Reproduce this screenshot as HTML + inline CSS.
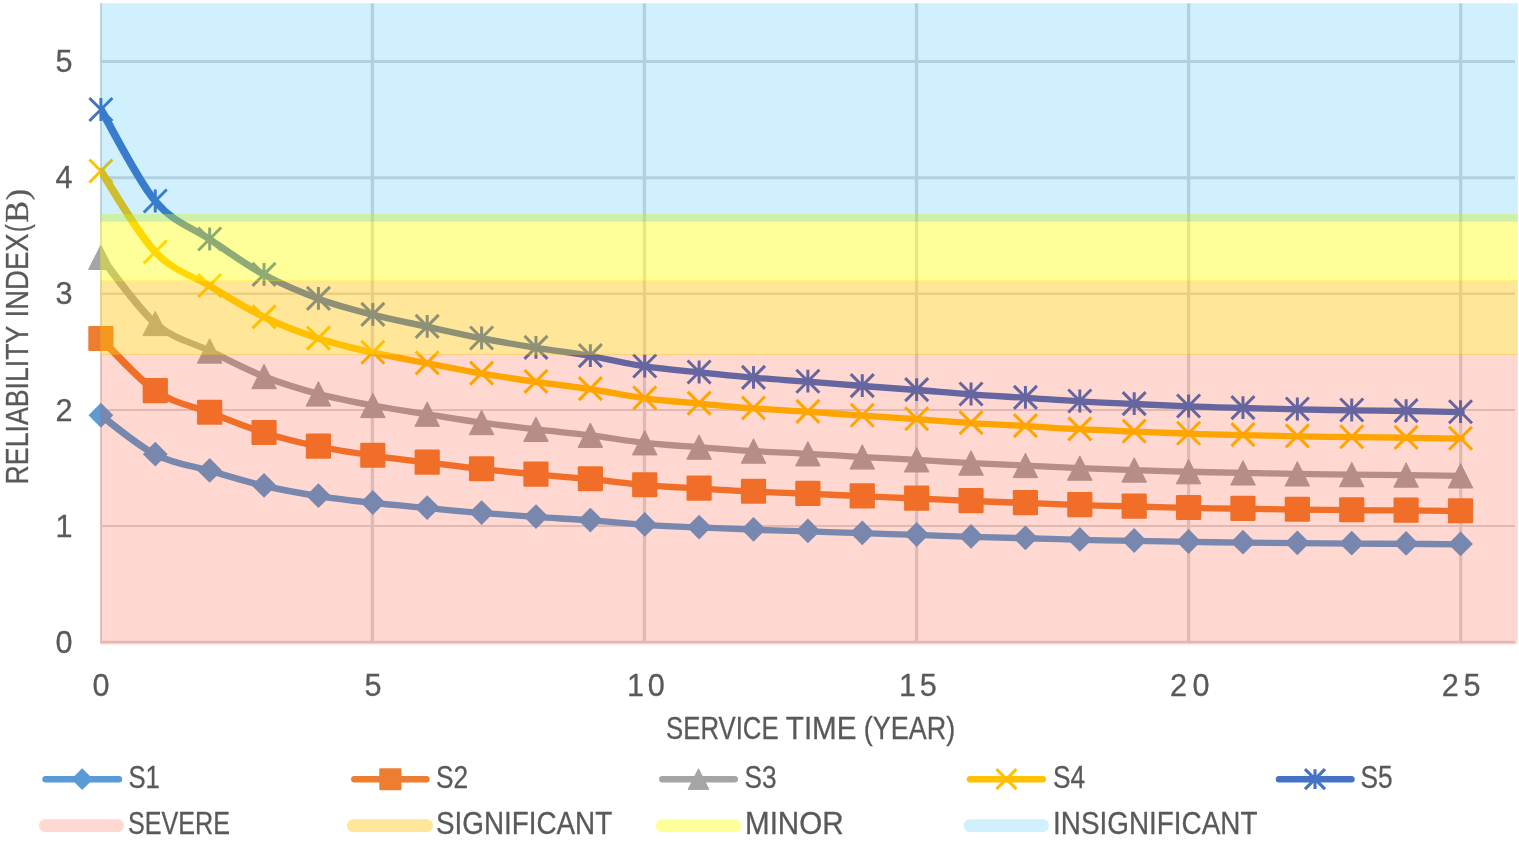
<!DOCTYPE html>
<html lang="en"><head><meta charset="utf-8"><title>Reliability index vs service time</title>
<style>html,body{margin:0;padding:0;background:#fff;}body{width:1519px;height:845px;overflow:hidden;}svg{display:block;}text{font-family:"Liberation Sans",sans-serif;fill:#595959;stroke:#595959;stroke-width:0.3px;}.ser{font-family:"Liberation Serif",serif;}</style></head><body>
<svg width="1519" height="845" viewBox="0 0 1519 845">
<rect width="1519" height="845" fill="#fff"/>
<g><line x1="100.1" y1="61.40" x2="1515.0" y2="61.40" stroke="#D9D9D9" stroke-width="3.0"/><line x1="100.1" y1="177.70" x2="1515.0" y2="177.70" stroke="#D9D9D9" stroke-width="3.0"/><line x1="100.1" y1="293.70" x2="1515.0" y2="293.70" stroke="#D9D9D9" stroke-width="2.6"/><line x1="100.1" y1="410.00" x2="1515.0" y2="410.00" stroke="#D9D9D9" stroke-width="2.2"/><line x1="100.1" y1="526.00" x2="1515.0" y2="526.00" stroke="#D9D9D9" stroke-width="2.2"/><line x1="100.1" y1="642.00" x2="1515.0" y2="642.00" stroke="#D9D9D9" stroke-width="2.6"/><line x1="101.05" y1="3.20" x2="101.05" y2="643.30" stroke="#D9D9D9" stroke-width="2.0"/><line x1="372.38" y1="3.20" x2="372.38" y2="643.30" stroke="#D9D9D9" stroke-width="3.35"/><line x1="644.46" y1="3.20" x2="644.46" y2="643.30" stroke="#D9D9D9" stroke-width="3.35"/><line x1="916.54" y1="3.20" x2="916.54" y2="643.30" stroke="#D9D9D9" stroke-width="3.35"/><line x1="1188.62" y1="3.20" x2="1188.62" y2="643.30" stroke="#D9D9D9" stroke-width="3.35"/><line x1="1460.70" y1="3.20" x2="1460.70" y2="643.30" stroke="#D9D9D9" stroke-width="3.35"/></g>
<defs><clipPath id="pc"><rect x="100.1" y="0" width="1420" height="645"/></clipPath></defs>
<g><g clip-path="url(#pc)"><path transform="scale(1.30,1)" d="M77.77 415.65 C84.74 422.14 105.66 445.42 119.60 454.61 C133.55 463.80 147.49 465.58 161.44 470.79 C175.38 476.00 189.33 481.65 203.27 485.87 C217.22 490.08 231.16 493.25 245.10 496.09 C259.05 498.93 272.99 500.91 286.94 502.90 C300.88 504.89 314.83 506.34 328.77 508.01 C342.72 509.69 356.66 511.46 370.61 512.95 C384.55 514.44 398.50 515.70 412.44 516.95 C426.38 518.20 440.33 519.12 454.27 520.44 C468.22 521.76 482.16 523.71 496.11 524.87 C510.05 526.04 524.00 526.62 537.94 527.43 C551.89 528.24 565.83 529.07 579.78 529.73 C593.72 530.38 607.66 530.76 621.61 531.35 C635.55 531.93 649.50 532.62 663.44 533.22 C677.39 533.82 691.33 534.33 705.28 534.92 C719.22 535.52 733.17 536.24 747.11 536.80 C761.06 537.35 775.00 537.75 788.94 538.24 C802.89 538.74 816.83 539.34 830.78 539.78 C844.72 540.22 858.67 540.53 872.61 540.88 C886.56 541.24 900.50 541.62 914.45 541.91 C928.39 542.19 942.34 542.37 956.28 542.59 C970.22 542.80 984.17 543.01 998.11 543.18 C1012.06 543.35 1026.00 543.50 1039.95 543.61 C1053.89 543.72 1067.84 543.74 1081.78 543.86 C1095.73 543.99 1116.64 544.26 1123.62 544.33" fill="none" stroke="#5B9BD5" stroke-width="6.30" stroke-linecap="round" stroke-linejoin="round"/></g>
<path d="M88.50 415.25L100.90 402.85L113.30 415.25L100.90 427.65Z" fill="#5B9BD5"/><path d="M142.88 454.21L155.28 441.81L167.68 454.21L155.28 466.61Z" fill="#5B9BD5"/><path d="M197.27 470.39L209.67 457.99L222.07 470.39L209.67 482.79Z" fill="#5B9BD5"/><path d="M251.65 485.47L264.05 473.07L276.45 485.47L264.05 497.87Z" fill="#5B9BD5"/><path d="M306.04 495.69L318.44 483.29L330.84 495.69L318.44 508.09Z" fill="#5B9BD5"/><path d="M360.42 502.50L372.82 490.10L385.22 502.50L372.82 514.90Z" fill="#5B9BD5"/><path d="M414.80 507.61L427.20 495.21L439.60 507.61L427.20 520.01Z" fill="#5B9BD5"/><path d="M469.19 512.55L481.59 500.15L493.99 512.55L481.59 524.95Z" fill="#5B9BD5"/><path d="M523.57 516.55L535.97 504.15L548.37 516.55L535.97 528.95Z" fill="#5B9BD5"/><path d="M577.96 520.04L590.36 507.64L602.76 520.04L590.36 532.44Z" fill="#5B9BD5"/><path d="M632.34 524.47L644.74 512.07L657.14 524.47L644.74 536.87Z" fill="#5B9BD5"/><path d="M686.72 527.03L699.12 514.63L711.52 527.03L699.12 539.43Z" fill="#5B9BD5"/><path d="M741.11 529.33L753.51 516.93L765.91 529.33L753.51 541.73Z" fill="#5B9BD5"/><path d="M795.49 530.95L807.89 518.55L820.29 530.95L807.89 543.35Z" fill="#5B9BD5"/><path d="M849.88 532.82L862.28 520.42L874.68 532.82L862.28 545.22Z" fill="#5B9BD5"/><path d="M904.26 534.52L916.66 522.12L929.06 534.52L916.66 546.92Z" fill="#5B9BD5"/><path d="M958.64 536.40L971.04 524.00L983.44 536.40L971.04 548.80Z" fill="#5B9BD5"/><path d="M1013.03 537.84L1025.43 525.44L1037.83 537.84L1025.43 550.24Z" fill="#5B9BD5"/><path d="M1067.41 539.38L1079.81 526.98L1092.21 539.38L1079.81 551.78Z" fill="#5B9BD5"/><path d="M1121.80 540.48L1134.20 528.08L1146.60 540.48L1134.20 552.88Z" fill="#5B9BD5"/><path d="M1176.18 541.51L1188.58 529.11L1200.98 541.51L1188.58 553.91Z" fill="#5B9BD5"/><path d="M1230.56 542.19L1242.96 529.79L1255.36 542.19L1242.96 554.59Z" fill="#5B9BD5"/><path d="M1284.95 542.78L1297.35 530.38L1309.75 542.78L1297.35 555.18Z" fill="#5B9BD5"/><path d="M1339.33 543.21L1351.73 530.81L1364.13 543.21L1351.73 555.61Z" fill="#5B9BD5"/><path d="M1393.72 543.46L1406.12 531.06L1418.52 543.46L1406.12 555.86Z" fill="#5B9BD5"/><path d="M1448.10 543.93L1460.50 531.53L1472.90 543.93L1460.50 556.33Z" fill="#5B9BD5"/></g>
<g><g clip-path="url(#pc)"><path transform="scale(1.30,1)" d="M77.77 338.80 C84.74 347.49 105.66 378.66 119.60 390.97 C133.55 403.27 147.49 405.66 161.44 412.63 C175.38 419.61 189.33 427.17 203.27 432.82 C217.22 438.46 231.16 442.70 245.10 446.50 C259.05 450.30 272.99 452.96 286.94 455.62 C300.88 458.28 314.83 460.22 328.77 462.46 C342.72 464.71 356.66 467.08 370.61 469.08 C384.55 471.07 398.50 472.76 412.44 474.44 C426.38 476.11 440.33 477.34 454.27 479.11 C468.22 480.88 482.16 483.48 496.11 485.04 C510.05 486.60 524.00 487.38 537.94 488.46 C551.89 489.55 565.83 490.67 579.78 491.54 C593.72 492.41 607.66 492.93 621.61 493.71 C635.55 494.49 649.50 495.42 663.44 496.22 C677.39 497.01 691.33 497.70 705.28 498.50 C719.22 499.29 733.17 500.26 747.11 501.01 C761.06 501.75 775.00 502.28 788.94 502.94 C802.89 503.61 816.83 504.41 830.78 505.00 C844.72 505.59 858.67 506.00 872.61 506.48 C886.56 506.95 900.50 507.47 914.45 507.85 C928.39 508.23 942.34 508.47 956.28 508.76 C970.22 509.04 984.17 509.33 998.11 509.56 C1012.06 509.79 1026.00 509.98 1039.95 510.13 C1053.89 510.28 1067.84 510.31 1081.78 510.47 C1095.73 510.63 1116.64 510.99 1123.62 511.10" fill="none" stroke="#ED7D31" stroke-width="6.30" stroke-linecap="round" stroke-linejoin="round"/></g>
<rect x="88.30" y="325.90" width="25.20" height="25.10" rx="1.2" fill="#ED7D31"/><rect x="142.68" y="378.07" width="25.20" height="25.10" rx="1.2" fill="#ED7D31"/><rect x="197.07" y="399.73" width="25.20" height="25.10" rx="1.2" fill="#ED7D31"/><rect x="251.45" y="419.92" width="25.20" height="25.10" rx="1.2" fill="#ED7D31"/><rect x="305.84" y="433.60" width="25.20" height="25.10" rx="1.2" fill="#ED7D31"/><rect x="360.22" y="442.72" width="25.20" height="25.10" rx="1.2" fill="#ED7D31"/><rect x="414.60" y="449.56" width="25.20" height="25.10" rx="1.2" fill="#ED7D31"/><rect x="468.99" y="456.18" width="25.20" height="25.10" rx="1.2" fill="#ED7D31"/><rect x="523.37" y="461.54" width="25.20" height="25.10" rx="1.2" fill="#ED7D31"/><rect x="577.76" y="466.21" width="25.20" height="25.10" rx="1.2" fill="#ED7D31"/><rect x="632.14" y="472.14" width="25.20" height="25.10" rx="1.2" fill="#ED7D31"/><rect x="686.52" y="475.56" width="25.20" height="25.10" rx="1.2" fill="#ED7D31"/><rect x="740.91" y="478.64" width="25.20" height="25.10" rx="1.2" fill="#ED7D31"/><rect x="795.29" y="480.81" width="25.20" height="25.10" rx="1.2" fill="#ED7D31"/><rect x="849.68" y="483.32" width="25.20" height="25.10" rx="1.2" fill="#ED7D31"/><rect x="904.06" y="485.60" width="25.20" height="25.10" rx="1.2" fill="#ED7D31"/><rect x="958.44" y="488.11" width="25.20" height="25.10" rx="1.2" fill="#ED7D31"/><rect x="1012.83" y="490.04" width="25.20" height="25.10" rx="1.2" fill="#ED7D31"/><rect x="1067.21" y="492.10" width="25.20" height="25.10" rx="1.2" fill="#ED7D31"/><rect x="1121.60" y="493.58" width="25.20" height="25.10" rx="1.2" fill="#ED7D31"/><rect x="1175.98" y="494.95" width="25.20" height="25.10" rx="1.2" fill="#ED7D31"/><rect x="1230.36" y="495.86" width="25.20" height="25.10" rx="1.2" fill="#ED7D31"/><rect x="1284.75" y="496.66" width="25.20" height="25.10" rx="1.2" fill="#ED7D31"/><rect x="1339.13" y="497.23" width="25.20" height="25.10" rx="1.2" fill="#ED7D31"/><rect x="1393.52" y="497.57" width="25.20" height="25.10" rx="1.2" fill="#ED7D31"/><rect x="1447.90" y="498.20" width="25.20" height="25.10" rx="1.2" fill="#ED7D31"/></g>
<g><g clip-path="url(#pc)"><path transform="scale(1.30,1)" d="M77.77 257.40 C84.74 268.43 105.66 307.95 119.60 323.55 C133.55 339.16 147.49 342.18 161.44 351.03 C175.38 359.87 189.33 369.47 203.27 376.62 C217.22 383.78 231.16 389.16 245.10 393.98 C259.05 398.80 272.99 402.17 286.94 405.54 C300.88 408.92 314.83 411.38 328.77 414.22 C342.72 417.06 356.66 420.08 370.61 422.61 C384.55 425.14 398.50 427.28 412.44 429.40 C426.38 431.52 440.33 433.09 454.27 435.33 C468.22 437.57 482.16 440.87 496.11 442.85 C510.05 444.83 524.00 445.82 537.94 447.19 C551.89 448.56 565.83 449.98 579.78 451.09 C593.72 452.20 607.66 452.85 621.61 453.84 C635.55 454.83 649.50 456.01 663.44 457.02 C677.39 458.03 691.33 458.90 705.28 459.91 C719.22 460.93 733.17 462.15 747.11 463.09 C761.06 464.03 775.00 464.71 788.94 465.55 C802.89 466.40 816.83 467.41 830.78 468.16 C844.72 468.90 858.67 469.43 872.61 470.04 C886.56 470.64 900.50 471.29 914.45 471.77 C928.39 472.25 942.34 472.57 956.28 472.93 C970.22 473.29 984.17 473.65 998.11 473.94 C1012.06 474.23 1026.00 474.47 1039.95 474.66 C1053.89 474.86 1067.84 474.89 1081.78 475.10 C1095.73 475.30 1116.64 475.76 1123.62 475.89" fill="none" stroke="#A5A5A5" stroke-width="6.30" stroke-linecap="round" stroke-linejoin="round"/></g>
<path d="M100.90 245.10L113.20 269.50L88.60 269.50Z" fill="#A5A5A5" stroke="#A5A5A5" stroke-width="1" stroke-linejoin="round"/><path d="M155.28 311.25L167.58 335.65L142.98 335.65Z" fill="#A5A5A5" stroke="#A5A5A5" stroke-width="1" stroke-linejoin="round"/><path d="M209.67 338.73L221.97 363.13L197.37 363.13Z" fill="#A5A5A5" stroke="#A5A5A5" stroke-width="1" stroke-linejoin="round"/><path d="M264.05 364.32L276.35 388.72L251.75 388.72Z" fill="#A5A5A5" stroke="#A5A5A5" stroke-width="1" stroke-linejoin="round"/><path d="M318.44 381.68L330.74 406.08L306.14 406.08Z" fill="#A5A5A5" stroke="#A5A5A5" stroke-width="1" stroke-linejoin="round"/><path d="M372.82 393.24L385.12 417.64L360.52 417.64Z" fill="#A5A5A5" stroke="#A5A5A5" stroke-width="1" stroke-linejoin="round"/><path d="M427.20 401.92L439.50 426.32L414.90 426.32Z" fill="#A5A5A5" stroke="#A5A5A5" stroke-width="1" stroke-linejoin="round"/><path d="M481.59 410.31L493.89 434.71L469.29 434.71Z" fill="#A5A5A5" stroke="#A5A5A5" stroke-width="1" stroke-linejoin="round"/><path d="M535.97 417.10L548.27 441.50L523.67 441.50Z" fill="#A5A5A5" stroke="#A5A5A5" stroke-width="1" stroke-linejoin="round"/><path d="M590.36 423.03L602.66 447.43L578.06 447.43Z" fill="#A5A5A5" stroke="#A5A5A5" stroke-width="1" stroke-linejoin="round"/><path d="M644.74 430.55L657.04 454.95L632.44 454.95Z" fill="#A5A5A5" stroke="#A5A5A5" stroke-width="1" stroke-linejoin="round"/><path d="M699.12 434.89L711.42 459.29L686.82 459.29Z" fill="#A5A5A5" stroke="#A5A5A5" stroke-width="1" stroke-linejoin="round"/><path d="M753.51 438.79L765.81 463.19L741.21 463.19Z" fill="#A5A5A5" stroke="#A5A5A5" stroke-width="1" stroke-linejoin="round"/><path d="M807.89 441.54L820.19 465.94L795.59 465.94Z" fill="#A5A5A5" stroke="#A5A5A5" stroke-width="1" stroke-linejoin="round"/><path d="M862.28 444.72L874.58 469.12L849.98 469.12Z" fill="#A5A5A5" stroke="#A5A5A5" stroke-width="1" stroke-linejoin="round"/><path d="M916.66 447.61L928.96 472.01L904.36 472.01Z" fill="#A5A5A5" stroke="#A5A5A5" stroke-width="1" stroke-linejoin="round"/><path d="M971.04 450.79L983.34 475.19L958.74 475.19Z" fill="#A5A5A5" stroke="#A5A5A5" stroke-width="1" stroke-linejoin="round"/><path d="M1025.43 453.25L1037.73 477.65L1013.13 477.65Z" fill="#A5A5A5" stroke="#A5A5A5" stroke-width="1" stroke-linejoin="round"/><path d="M1079.81 455.86L1092.11 480.26L1067.51 480.26Z" fill="#A5A5A5" stroke="#A5A5A5" stroke-width="1" stroke-linejoin="round"/><path d="M1134.20 457.74L1146.50 482.14L1121.90 482.14Z" fill="#A5A5A5" stroke="#A5A5A5" stroke-width="1" stroke-linejoin="round"/><path d="M1188.58 459.47L1200.88 483.87L1176.28 483.87Z" fill="#A5A5A5" stroke="#A5A5A5" stroke-width="1" stroke-linejoin="round"/><path d="M1242.96 460.63L1255.26 485.03L1230.66 485.03Z" fill="#A5A5A5" stroke="#A5A5A5" stroke-width="1" stroke-linejoin="round"/><path d="M1297.35 461.64L1309.65 486.04L1285.05 486.04Z" fill="#A5A5A5" stroke="#A5A5A5" stroke-width="1" stroke-linejoin="round"/><path d="M1351.73 462.36L1364.03 486.76L1339.43 486.76Z" fill="#A5A5A5" stroke="#A5A5A5" stroke-width="1" stroke-linejoin="round"/><path d="M1406.12 462.80L1418.42 487.20L1393.82 487.20Z" fill="#A5A5A5" stroke="#A5A5A5" stroke-width="1" stroke-linejoin="round"/><path d="M1460.50 463.59L1472.80 487.99L1448.20 487.99Z" fill="#A5A5A5" stroke="#A5A5A5" stroke-width="1" stroke-linejoin="round"/></g>
<g><g clip-path="url(#pc)"><path transform="scale(1.30,1)" d="M77.77 171.40 C84.74 184.89 105.66 233.24 119.60 252.33 C133.55 271.42 147.49 275.12 161.44 285.94 C175.38 296.76 189.33 308.50 203.27 317.26 C217.22 326.01 231.16 332.59 245.10 338.48 C259.05 344.38 272.99 348.51 286.94 352.64 C300.88 356.76 314.83 359.77 328.77 363.25 C342.72 366.73 356.66 370.41 370.61 373.51 C384.55 376.61 398.50 379.23 412.44 381.82 C426.38 384.42 440.33 386.34 454.27 389.08 C468.22 391.82 482.16 395.86 496.11 398.28 C510.05 400.69 524.00 401.90 537.94 403.58 C551.89 405.26 565.83 407.00 579.78 408.36 C593.72 409.72 607.66 410.51 621.61 411.72 C635.55 412.93 649.50 414.37 663.44 415.61 C677.39 416.85 691.33 417.91 705.28 419.15 C719.22 420.39 733.17 421.89 747.11 423.04 C761.06 424.19 775.00 425.02 788.94 426.05 C802.89 427.08 816.83 428.32 830.78 429.23 C844.72 430.15 858.67 430.80 872.61 431.53 C886.56 432.27 900.50 433.07 914.45 433.66 C928.39 434.25 942.34 434.63 956.28 435.07 C970.22 435.51 984.17 435.96 998.11 436.31 C1012.06 436.66 1026.00 436.96 1039.95 437.19 C1053.89 437.43 1067.84 437.47 1081.78 437.73 C1095.73 437.98 1116.64 438.54 1123.62 438.70" fill="none" stroke="#FFC000" stroke-width="6.30" stroke-linecap="round" stroke-linejoin="round"/></g>
<path d="M89.40 159.50L112.40 182.50M89.40 182.50L112.40 159.50" fill="none" stroke="#FFC000" stroke-width="3.00" stroke-linecap="butt"/><path d="M143.78 240.43L166.78 263.43M143.78 263.43L166.78 240.43" fill="none" stroke="#FFC000" stroke-width="3.00" stroke-linecap="butt"/><path d="M198.17 274.04L221.17 297.04M198.17 297.04L221.17 274.04" fill="none" stroke="#FFC000" stroke-width="3.00" stroke-linecap="butt"/><path d="M252.55 305.36L275.55 328.36M252.55 328.36L275.55 305.36" fill="none" stroke="#FFC000" stroke-width="3.00" stroke-linecap="butt"/><path d="M306.94 326.58L329.94 349.58M306.94 349.58L329.94 326.58" fill="none" stroke="#FFC000" stroke-width="3.00" stroke-linecap="butt"/><path d="M361.32 340.74L384.32 363.74M361.32 363.74L384.32 340.74" fill="none" stroke="#FFC000" stroke-width="3.00" stroke-linecap="butt"/><path d="M415.70 351.35L438.70 374.35M415.70 374.35L438.70 351.35" fill="none" stroke="#FFC000" stroke-width="3.00" stroke-linecap="butt"/><path d="M470.09 361.61L493.09 384.61M470.09 384.61L493.09 361.61" fill="none" stroke="#FFC000" stroke-width="3.00" stroke-linecap="butt"/><path d="M524.47 369.92L547.47 392.92M524.47 392.92L547.47 369.92" fill="none" stroke="#FFC000" stroke-width="3.00" stroke-linecap="butt"/><path d="M578.86 377.18L601.86 400.18M578.86 400.18L601.86 377.18" fill="none" stroke="#FFC000" stroke-width="3.00" stroke-linecap="butt"/><path d="M633.24 386.38L656.24 409.38M633.24 409.38L656.24 386.38" fill="none" stroke="#FFC000" stroke-width="3.00" stroke-linecap="butt"/><path d="M687.62 391.68L710.62 414.68M687.62 414.68L710.62 391.68" fill="none" stroke="#FFC000" stroke-width="3.00" stroke-linecap="butt"/><path d="M742.01 396.46L765.01 419.46M742.01 419.46L765.01 396.46" fill="none" stroke="#FFC000" stroke-width="3.00" stroke-linecap="butt"/><path d="M796.39 399.82L819.39 422.82M796.39 422.82L819.39 399.82" fill="none" stroke="#FFC000" stroke-width="3.00" stroke-linecap="butt"/><path d="M850.78 403.71L873.78 426.71M850.78 426.71L873.78 403.71" fill="none" stroke="#FFC000" stroke-width="3.00" stroke-linecap="butt"/><path d="M905.16 407.25L928.16 430.25M905.16 430.25L928.16 407.25" fill="none" stroke="#FFC000" stroke-width="3.00" stroke-linecap="butt"/><path d="M959.54 411.14L982.54 434.14M959.54 434.14L982.54 411.14" fill="none" stroke="#FFC000" stroke-width="3.00" stroke-linecap="butt"/><path d="M1013.93 414.15L1036.93 437.15M1013.93 437.15L1036.93 414.15" fill="none" stroke="#FFC000" stroke-width="3.00" stroke-linecap="butt"/><path d="M1068.31 417.33L1091.31 440.33M1068.31 440.33L1091.31 417.33" fill="none" stroke="#FFC000" stroke-width="3.00" stroke-linecap="butt"/><path d="M1122.70 419.63L1145.70 442.63M1122.70 442.63L1145.70 419.63" fill="none" stroke="#FFC000" stroke-width="3.00" stroke-linecap="butt"/><path d="M1177.08 421.76L1200.08 444.76M1177.08 444.76L1200.08 421.76" fill="none" stroke="#FFC000" stroke-width="3.00" stroke-linecap="butt"/><path d="M1231.46 423.17L1254.46 446.17M1231.46 446.17L1254.46 423.17" fill="none" stroke="#FFC000" stroke-width="3.00" stroke-linecap="butt"/><path d="M1285.85 424.41L1308.85 447.41M1285.85 447.41L1308.85 424.41" fill="none" stroke="#FFC000" stroke-width="3.00" stroke-linecap="butt"/><path d="M1340.23 425.29L1363.23 448.29M1340.23 448.29L1363.23 425.29" fill="none" stroke="#FFC000" stroke-width="3.00" stroke-linecap="butt"/><path d="M1394.62 425.83L1417.62 448.83M1394.62 448.83L1417.62 425.83" fill="none" stroke="#FFC000" stroke-width="3.00" stroke-linecap="butt"/><path d="M1449.00 426.80L1472.00 449.80M1449.00 449.80L1472.00 426.80" fill="none" stroke="#FFC000" stroke-width="3.00" stroke-linecap="butt"/></g>
<g><g clip-path="url(#pc)"><path transform="scale(1.30,1)" d="M77.77 109.90 C84.74 125.15 105.66 179.82 119.60 201.40 C133.55 222.98 147.49 227.17 161.44 239.40 C175.38 251.63 189.33 264.90 203.27 274.80 C217.22 284.70 231.16 292.13 245.10 298.80 C259.05 305.47 272.99 310.13 286.94 314.80 C300.88 319.47 314.83 322.87 328.77 326.80 C342.72 330.73 356.66 334.90 370.61 338.40 C384.55 341.90 398.50 344.87 412.44 347.80 C426.38 350.73 440.33 352.90 454.27 356.00 C468.22 359.10 482.16 363.67 496.11 366.40 C510.05 369.13 524.00 370.50 537.94 372.40 C551.89 374.30 565.83 376.27 579.78 377.80 C593.72 379.33 607.66 380.23 621.61 381.60 C635.55 382.97 649.50 384.60 663.44 386.00 C677.39 387.40 691.33 388.60 705.28 390.00 C719.22 391.40 733.17 393.10 747.11 394.40 C761.06 395.70 775.00 396.63 788.94 397.80 C802.89 398.97 816.83 400.37 830.78 401.40 C844.72 402.43 858.67 403.17 872.61 404.00 C886.56 404.83 900.50 405.73 914.45 406.40 C928.39 407.07 942.34 407.50 956.28 408.00 C970.22 408.50 984.17 409.00 998.11 409.40 C1012.06 409.80 1026.00 410.13 1039.95 410.40 C1053.89 410.67 1067.84 410.72 1081.78 411.00 C1095.73 411.28 1116.64 411.92 1123.62 412.10" fill="none" stroke="#4472C4" stroke-width="6.30" stroke-linecap="round" stroke-linejoin="round"/></g>
<path d="M89.40 98.00L112.40 121.00M89.40 121.00L112.40 98.00M100.90 98.10L100.90 120.90" fill="none" stroke="#4472C4" stroke-width="3.00" stroke-linecap="butt"/><path d="M143.78 189.50L166.78 212.50M143.78 212.50L166.78 189.50M155.28 189.60L155.28 212.40" fill="none" stroke="#4472C4" stroke-width="3.00" stroke-linecap="butt"/><path d="M198.17 227.50L221.17 250.50M198.17 250.50L221.17 227.50M209.67 227.60L209.67 250.40" fill="none" stroke="#4472C4" stroke-width="3.00" stroke-linecap="butt"/><path d="M252.55 262.90L275.55 285.90M252.55 285.90L275.55 262.90M264.05 263.00L264.05 285.80" fill="none" stroke="#4472C4" stroke-width="3.00" stroke-linecap="butt"/><path d="M306.94 286.90L329.94 309.90M306.94 309.90L329.94 286.90M318.44 287.00L318.44 309.80" fill="none" stroke="#4472C4" stroke-width="3.00" stroke-linecap="butt"/><path d="M361.32 302.90L384.32 325.90M361.32 325.90L384.32 302.90M372.82 303.00L372.82 325.80" fill="none" stroke="#4472C4" stroke-width="3.00" stroke-linecap="butt"/><path d="M415.70 314.90L438.70 337.90M415.70 337.90L438.70 314.90M427.20 315.00L427.20 337.80" fill="none" stroke="#4472C4" stroke-width="3.00" stroke-linecap="butt"/><path d="M470.09 326.50L493.09 349.50M470.09 349.50L493.09 326.50M481.59 326.60L481.59 349.40" fill="none" stroke="#4472C4" stroke-width="3.00" stroke-linecap="butt"/><path d="M524.47 335.90L547.47 358.90M524.47 358.90L547.47 335.90M535.97 336.00L535.97 358.80" fill="none" stroke="#4472C4" stroke-width="3.00" stroke-linecap="butt"/><path d="M578.86 344.10L601.86 367.10M578.86 367.10L601.86 344.10M590.36 344.20L590.36 367.00" fill="none" stroke="#4472C4" stroke-width="3.00" stroke-linecap="butt"/><path d="M633.24 354.50L656.24 377.50M633.24 377.50L656.24 354.50M644.74 354.60L644.74 377.40" fill="none" stroke="#4472C4" stroke-width="3.00" stroke-linecap="butt"/><path d="M687.62 360.50L710.62 383.50M687.62 383.50L710.62 360.50M699.12 360.60L699.12 383.40" fill="none" stroke="#4472C4" stroke-width="3.00" stroke-linecap="butt"/><path d="M742.01 365.90L765.01 388.90M742.01 388.90L765.01 365.90M753.51 366.00L753.51 388.80" fill="none" stroke="#4472C4" stroke-width="3.00" stroke-linecap="butt"/><path d="M796.39 369.70L819.39 392.70M796.39 392.70L819.39 369.70M807.89 369.80L807.89 392.60" fill="none" stroke="#4472C4" stroke-width="3.00" stroke-linecap="butt"/><path d="M850.78 374.10L873.78 397.10M850.78 397.10L873.78 374.10M862.28 374.20L862.28 397.00" fill="none" stroke="#4472C4" stroke-width="3.00" stroke-linecap="butt"/><path d="M905.16 378.10L928.16 401.10M905.16 401.10L928.16 378.10M916.66 378.20L916.66 401.00" fill="none" stroke="#4472C4" stroke-width="3.00" stroke-linecap="butt"/><path d="M959.54 382.50L982.54 405.50M959.54 405.50L982.54 382.50M971.04 382.60L971.04 405.40" fill="none" stroke="#4472C4" stroke-width="3.00" stroke-linecap="butt"/><path d="M1013.93 385.90L1036.93 408.90M1013.93 408.90L1036.93 385.90M1025.43 386.00L1025.43 408.80" fill="none" stroke="#4472C4" stroke-width="3.00" stroke-linecap="butt"/><path d="M1068.31 389.50L1091.31 412.50M1068.31 412.50L1091.31 389.50M1079.81 389.60L1079.81 412.40" fill="none" stroke="#4472C4" stroke-width="3.00" stroke-linecap="butt"/><path d="M1122.70 392.10L1145.70 415.10M1122.70 415.10L1145.70 392.10M1134.20 392.20L1134.20 415.00" fill="none" stroke="#4472C4" stroke-width="3.00" stroke-linecap="butt"/><path d="M1177.08 394.50L1200.08 417.50M1177.08 417.50L1200.08 394.50M1188.58 394.60L1188.58 417.40" fill="none" stroke="#4472C4" stroke-width="3.00" stroke-linecap="butt"/><path d="M1231.46 396.10L1254.46 419.10M1231.46 419.10L1254.46 396.10M1242.96 396.20L1242.96 419.00" fill="none" stroke="#4472C4" stroke-width="3.00" stroke-linecap="butt"/><path d="M1285.85 397.50L1308.85 420.50M1285.85 420.50L1308.85 397.50M1297.35 397.60L1297.35 420.40" fill="none" stroke="#4472C4" stroke-width="3.00" stroke-linecap="butt"/><path d="M1340.23 398.50L1363.23 421.50M1340.23 421.50L1363.23 398.50M1351.73 398.60L1351.73 421.40" fill="none" stroke="#4472C4" stroke-width="3.00" stroke-linecap="butt"/><path d="M1394.62 399.10L1417.62 422.10M1394.62 422.10L1417.62 399.10M1406.12 399.20L1406.12 422.00" fill="none" stroke="#4472C4" stroke-width="3.00" stroke-linecap="butt"/><path d="M1449.00 400.20L1472.00 423.20M1449.00 423.20L1472.00 400.20M1460.50 400.30L1460.50 423.10" fill="none" stroke="#4472C4" stroke-width="3.00" stroke-linecap="butt"/></g>
<g>
<rect x="100.3" y="354.00" width="1417.5" height="290.50" fill="#FF2D00" fill-opacity="0.180"/>
<rect x="100.3" y="280.30" width="1417.5" height="74.70" fill="#FFC000" fill-opacity="0.400"/>
<rect x="100.3" y="214.00" width="1417.5" height="67.20" fill="#FFFF00" fill-opacity="0.400"/>
<rect x="100.3" y="3.20" width="1417.5" height="218.40" fill="#00B0F0" fill-opacity="0.190"/>
</g>
<text x="64.1" y="72.1" font-size="30.6" text-anchor="middle">5</text>
<text x="64.1" y="188.4" font-size="30.6" text-anchor="middle">4</text>
<text x="64.1" y="304.4" font-size="30.6" text-anchor="middle">3</text>
<text x="64.1" y="420.7" font-size="30.6" text-anchor="middle">2</text>
<text x="64.1" y="536.7" font-size="30.6" text-anchor="middle">1</text>
<text x="64.1" y="652.7" font-size="30.6" text-anchor="middle">0</text>
<text y="696.4" font-size="30.6" text-anchor="middle"><tspan x="101.0">0</tspan></text>
<text y="696.4" font-size="30.6" text-anchor="middle"><tspan x="373.0">5</tspan></text>
<text y="696.4" font-size="30.6" text-anchor="middle"><tspan x="635.6">1</tspan><tspan x="656.2">0</tspan></text>
<text y="696.4" font-size="30.6" text-anchor="middle"><tspan x="907.5">1</tspan><tspan x="928.3">5</tspan></text>
<text y="696.4" font-size="30.6" text-anchor="middle"><tspan x="1178.6">2</tspan><tspan x="1201.0">0</tspan></text>
<text y="696.4" font-size="30.6" text-anchor="middle"><tspan x="1450.3">2</tspan><tspan x="1472.1">5</tspan></text>
<text><tspan x="666.10" y="739.40" font-size="30.6" textLength="112.44" lengthAdjust="spacingAndGlyphs">SERVICE</tspan> <tspan x="785.80" y="739.40" font-size="30.6" textLength="70.74" lengthAdjust="spacingAndGlyphs">TIME</tspan> <tspan x="863.80" y="739.40" font-size="30.6" textLength="91.38" lengthAdjust="spacingAndGlyphs">(YEAR)</tspan></text>
<text transform="rotate(-90)"><tspan x="-484.50" y="28.10" font-size="30.6" textLength="158.94" lengthAdjust="spacingAndGlyphs">RELIABILITY</tspan> <tspan x="-317.40" y="28.10" font-size="30.6" textLength="83.99" lengthAdjust="spacingAndGlyphs">INDEX</tspan><tspan x="-231.90" y="28.10" font-size="30.6" textLength="7.76" lengthAdjust="spacingAndGlyphs">(</tspan><tspan class="ser" x="-222.70" y="28.30" font-size="34.5" textLength="21.74" lengthAdjust="spacingAndGlyphs">Β</tspan><tspan class="ser" x="-200.30" y="28.10" font-size="30.6" textLength="11.36" lengthAdjust="spacingAndGlyphs">)</tspan></text>
<line x1="45.5" y1="779.2" x2="119.0" y2="779.2" stroke="#5B9BD5" stroke-width="6.4" stroke-linecap="round"/>
<path d="M71.30 779.20L82.20 768.30L93.10 779.20L82.20 790.10Z" fill="#5B9BD5"/>
<text><tspan x="128.40" y="787.60" font-size="30.6" textLength="31.44" lengthAdjust="spacingAndGlyphs">S1</tspan></text>
<line x1="354.3" y1="779.2" x2="426.5" y2="779.2" stroke="#ED7D31" stroke-width="6.4" stroke-linecap="round"/>
<rect x="379.30" y="768.20" width="22.20" height="22.10" rx="1.2" fill="#ED7D31"/>
<text><tspan x="436.00" y="787.60" font-size="30.6" textLength="32.14" lengthAdjust="spacingAndGlyphs">S2</tspan></text>
<line x1="662.3" y1="779.2" x2="734.8" y2="779.2" stroke="#A5A5A5" stroke-width="6.4" stroke-linecap="round"/>
<path d="M698.50 768.80L708.90 789.40L688.10 789.40Z" fill="#A5A5A5" stroke="#A5A5A5" stroke-width="1" stroke-linejoin="round"/>
<text><tspan x="744.60" y="787.60" font-size="30.6" textLength="32.06" lengthAdjust="spacingAndGlyphs">S3</tspan></text>
<line x1="970.0" y1="779.2" x2="1042.8" y2="779.2" stroke="#FFC000" stroke-width="6.4" stroke-linecap="round"/>
<path d="M996.40 769.20L1016.40 789.20M996.40 789.20L1016.40 769.20" fill="none" stroke="#FFC000" stroke-width="3.10" stroke-linecap="butt"/>
<text><tspan x="1053.10" y="787.60" font-size="30.6" textLength="32.14" lengthAdjust="spacingAndGlyphs">S4</tspan></text>
<line x1="1279.0" y1="779.2" x2="1351.5" y2="779.2" stroke="#4472C4" stroke-width="6.4" stroke-linecap="round"/>
<path d="M1305.00 769.20L1325.00 789.20M1305.00 789.20L1325.00 769.20M1315.00 769.30L1315.00 789.10" fill="none" stroke="#4472C4" stroke-width="3.10" stroke-linecap="butt"/>
<text><tspan x="1360.50" y="787.60" font-size="30.6" textLength="32.14" lengthAdjust="spacingAndGlyphs">S5</tspan></text>
<line x1="45.4" y1="825.6" x2="117.6" y2="825.6" stroke="#FF2D00" stroke-opacity="0.18" stroke-width="12.8" stroke-linecap="round"/>
<text><tspan x="128.00" y="833.60" font-size="30.6" textLength="102.04" lengthAdjust="spacingAndGlyphs">SEVERE</tspan></text>
<line x1="353.4" y1="825.6" x2="426.6" y2="825.6" stroke="#FFC000" stroke-opacity="0.40" stroke-width="12.8" stroke-linecap="round"/>
<text><tspan x="436.00" y="833.60" font-size="30.6" textLength="176.12" lengthAdjust="spacingAndGlyphs">SIGNIFICANT</tspan></text>
<line x1="662.2" y1="825.6" x2="734.9" y2="825.6" stroke="#FFFF00" stroke-opacity="0.40" stroke-width="12.8" stroke-linecap="round"/>
<text><tspan x="745.00" y="833.60" font-size="30.6" textLength="98.62" lengthAdjust="spacingAndGlyphs">MINOR</tspan></text>
<line x1="970.2" y1="825.6" x2="1042.6" y2="825.6" stroke="#00B0F0" stroke-opacity="0.19" stroke-width="12.8" stroke-linecap="round"/>
<text><tspan x="1053.00" y="833.60" font-size="30.6" textLength="204.53" lengthAdjust="spacingAndGlyphs">INSIGNIFICANT</tspan></text>
</svg></body></html>
